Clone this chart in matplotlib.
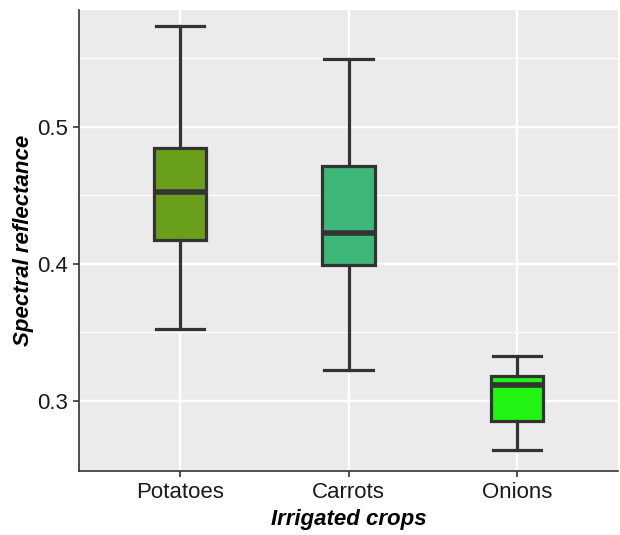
import matplotlib.pyplot as plt
from matplotlib.ticker import MultipleLocator

crops = ["Potatoes", "Carrots", "Onions"]
whis_lo = [0.3524, 0.3228, 0.2645]
q1 = [0.4173, 0.3989, 0.2855]
med = [0.4525, 0.4222, 0.3116]
q3 = [0.4845, 0.4716, 0.3180]
whis_hi = [0.5737, 0.5495, 0.3325]
colors = ["#6a9f1c", "#3db878", "#22f514"]

plt.rcParams['font.family'] = ['Liberation Sans', 'DejaVu Sans']

fig = plt.figure(figsize=(6.2, 5.35), dpi=100)
ax = fig.add_axes([79 / 620, 1 - 471 / 535, 539 / 620, 461 / 535])
ax.set_facecolor("#ebebeb")

stats = []
for i, c in enumerate(crops):
    stats.append(dict(label=c, whislo=whis_lo[i], q1=q1[i], med=med[i],
                      q3=q3[i], whishi=whis_hi[i], fliers=[]))

edge = "#333333"
bp = ax.bxp(stats, positions=[1, 2, 3], widths=0.31, patch_artist=True,
            showfliers=False,
            boxprops=dict(edgecolor=edge, linewidth=2.3),
            whiskerprops=dict(color=edge, linewidth=2.3),
            capprops=dict(color=edge, linewidth=2.3),
            medianprops=dict(color=edge, linewidth=4.0, solid_capstyle="butt"),
            capwidths=0.29, zorder=3)
for patch, col in zip(bp["boxes"], colors):
    patch.set_facecolor(col)

ax.set_xlim(0.4, 3.6)
ax.set_ylim(0.249, 0.585)
ax.yaxis.set_major_locator(MultipleLocator(0.1))
ax.yaxis.set_minor_locator(MultipleLocator(0.05))
ax.set_yticklabels([f"{t:.1f}" for t in ax.get_yticks()])

ax.grid(which="major", color="white", linewidth=1.7, zorder=0)
ax.grid(which="minor", axis="y", color="white", linewidth=0.9, zorder=0)
ax.set_axisbelow(True)

for s in ["top", "right"]:
    ax.spines[s].set_visible(False)
for s in ["left", "bottom"]:
    ax.spines[s].set_color("#333333")
    ax.spines[s].set_linewidth(1.2)

ax.tick_params(which="major", length=4, width=1.2, color="#333333",
               labelsize=16, labelcolor="#1a1a1a", pad=4)
ax.tick_params(which="minor", length=0)

ax.set_xlabel("Irrigated crops", fontsize=16, fontweight="bold",
              fontstyle="italic", labelpad=4)
ax.set_ylabel("Spectral reflectance", fontsize=16, fontweight="bold",
              fontstyle="italic", labelpad=2)

fig.savefig("out.png", dpi=100)
